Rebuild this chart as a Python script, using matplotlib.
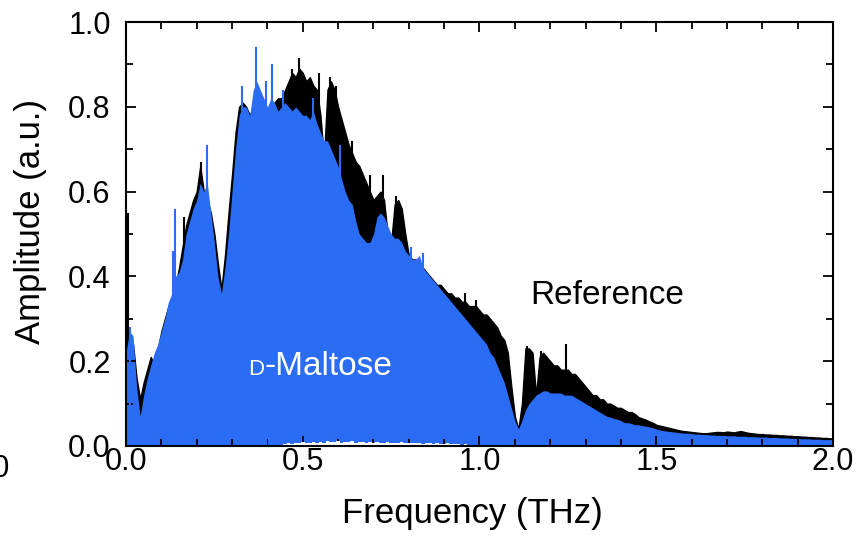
import numpy as np
import matplotlib
matplotlib.use("Agg")
import matplotlib.pyplot as plt
from matplotlib.ticker import MultipleLocator

plt.rcParams["font.family"] = ["Liberation Sans", "DejaVu Sans"]

# spectral amplitude envelopes, 0.00 ... 2.00 THz in 0.01 THz steps
reference_amp = [
    0.20, 0.23, 0.24, 0.16, 0.11, 0.15, 0.18, 0.21, 0.19, 0.23,
    0.27, 0.30, 0.33, 0.35, 0.38, 0.42, 0.47, 0.52, 0.55, 0.58,
    0.60, 0.66, 0.60, 0.58, 0.55, 0.50, 0.43, 0.37, 0.45, 0.55,
    0.64, 0.74, 0.80, 0.81, 0.80, 0.78, 0.80, 0.82, 0.80, 0.80,
    0.79, 0.80, 0.81, 0.82, 0.82, 0.84, 0.86, 0.88, 0.87, 0.89,
    0.88, 0.86, 0.87, 0.85, 0.84, 0.78, 0.68, 0.84, 0.86, 0.84,
    0.80, 0.77, 0.74, 0.71, 0.69, 0.67, 0.66, 0.64, 0.62, 0.60,
    0.58, 0.59, 0.60, 0.58, 0.50, 0.48, 0.57, 0.58, 0.56, 0.50,
    0.45, 0.44, 0.44, 0.43, 0.42, 0.41, 0.40, 0.39, 0.38, 0.38,
    0.37, 0.36, 0.36, 0.35, 0.35, 0.34, 0.34, 0.33, 0.33, 0.33,
    0.32, 0.31, 0.31, 0.30, 0.29, 0.28, 0.26, 0.25, 0.22, 0.14,
    0.07, 0.04, 0.10, 0.23, 0.23, 0.22, 0.12, 0.21, 0.22, 0.21,
    0.20, 0.19, 0.19, 0.18, 0.18, 0.18, 0.17, 0.17, 0.16, 0.15,
    0.14, 0.13, 0.12, 0.12, 0.11, 0.11, 0.10, 0.10, 0.095, 0.09,
    0.09, 0.085, 0.08, 0.08, 0.075, 0.068, 0.065, 0.062, 0.058, 0.055,
    0.050, 0.048, 0.046, 0.044, 0.042, 0.040, 0.038, 0.036, 0.035, 0.034,
    0.033, 0.032, 0.031, 0.030, 0.030, 0.031, 0.032, 0.033, 0.033, 0.032,
    0.034, 0.033, 0.032, 0.034, 0.035, 0.033, 0.031, 0.030, 0.029, 0.028,
    0.028, 0.027, 0.027, 0.026, 0.026, 0.025, 0.025, 0.024, 0.024, 0.023,
    0.023, 0.022, 0.022, 0.021, 0.021, 0.020, 0.020, 0.019, 0.019, 0.018,
    0.018,
]

maltose_amp = [
    0.22, 0.27, 0.26, 0.14, 0.07, 0.12, 0.16, 0.19, 0.22, 0.24,
    0.27, 0.30, 0.34, 0.36, 0.40, 0.41, 0.44, 0.50, 0.53, 0.56,
    0.58, 0.62, 0.60, 0.62, 0.55, 0.48, 0.40, 0.36, 0.42, 0.50,
    0.60, 0.70, 0.78, 0.80, 0.80, 0.78, 0.84, 0.86, 0.84, 0.82,
    0.80, 0.82, 0.81, 0.79, 0.80, 0.81, 0.80, 0.79, 0.80, 0.79,
    0.78, 0.78, 0.77, 0.79, 0.76, 0.74, 0.72, 0.72, 0.70, 0.68,
    0.66, 0.63, 0.60, 0.58, 0.57, 0.53, 0.50, 0.49, 0.48, 0.48,
    0.50, 0.54, 0.55, 0.54, 0.52, 0.50, 0.49, 0.49, 0.48, 0.46,
    0.45, 0.44, 0.44, 0.45, 0.42, 0.41, 0.40, 0.39, 0.38, 0.37,
    0.36, 0.35, 0.34, 0.33, 0.32, 0.31, 0.30, 0.29, 0.28, 0.27,
    0.26, 0.25, 0.24, 0.22, 0.21, 0.19, 0.17, 0.15, 0.12, 0.09,
    0.06, 0.04, 0.06, 0.085, 0.10, 0.11, 0.12, 0.125, 0.13, 0.13,
    0.125, 0.125, 0.125, 0.125, 0.12, 0.12, 0.12, 0.115, 0.11, 0.105,
    0.10, 0.095, 0.09, 0.085, 0.08, 0.075, 0.07, 0.068, 0.065, 0.063,
    0.06, 0.055, 0.055, 0.053, 0.05, 0.05, 0.048, 0.047, 0.045, 0.043,
    0.040, 0.038, 0.036, 0.035, 0.034, 0.033, 0.032, 0.031, 0.030, 0.030,
    0.029, 0.028, 0.028, 0.027, 0.027, 0.026, 0.026, 0.025, 0.025, 0.025,
    0.024, 0.024, 0.024, 0.023, 0.023, 0.023, 0.022, 0.022, 0.022, 0.021,
    0.021, 0.021, 0.020, 0.020, 0.020, 0.019, 0.019, 0.019, 0.018, 0.018,
    0.018, 0.017, 0.017, 0.017, 0.016, 0.016, 0.016, 0.015, 0.015, 0.015,
    0.016,
]

# narrow single-bin peaks standing above the envelopes
reference_spike_freq = [0.006, 0.165, 0.212, 0.47, 0.49, 0.545, 0.578, 0.595,
                        0.64, 0.69, 0.727, 0.765, 0.96, 0.99, 1.135, 1.175, 1.245]
reference_spike_amp = [0.55, 0.54, 0.67, 0.89, 0.915, 0.88, 0.87, 0.85,
                       0.72, 0.64, 0.64, 0.59, 0.36, 0.345, 0.235, 0.225, 0.24]
maltose_spike_freq = [0.011, 0.132, 0.139, 0.229, 0.328, 0.368, 0.395, 0.413,
                      0.445, 0.53, 0.605, 0.805, 0.84]
maltose_spike_amp = [0.28, 0.46, 0.56, 0.71, 0.85, 0.94, 0.86, 0.90,
                     0.84, 0.82, 0.71, 0.47, 0.455]

# white dropout near the baseline, 0.44 ... 0.99 THz
dropout_amp = [
    0.003, 0.004, 0.006, 0.005, 0.008, 0.007, 0.009, 0.006, 0.008, 0.010,
    0.007, 0.009, 0.008, 0.011, 0.009, 0.010, 0.012, 0.008, 0.010, 0.009,
    0.011, 0.008, 0.009, 0.010, 0.007, 0.009, 0.008, 0.010, 0.007, 0.008,
    0.009, 0.006, 0.008, 0.007, 0.009, 0.006, 0.007, 0.008, 0.006, 0.007,
    0.005, 0.006, 0.007, 0.005, 0.006, 0.004, 0.005, 0.006, 0.004, 0.005,
    0.004, 0.003, 0.004, 0.003, 0.003, 0.002,
]

BLUE = "#2a6cf4"

freq = np.linspace(0.0, 2.0, len(reference_amp))
dropout_freq = 0.44 + 0.01 * np.arange(len(dropout_amp))

fig = plt.figure(figsize=(8.67, 5.37), dpi=100)
ax = fig.add_axes([0.1453, 0.1695, 0.8155, 0.7895])

# reference first, sample spectrum painted over it
ax.fill_between(freq, 0, reference_amp, color="black", lw=1.0, zorder=1)
ax.vlines(reference_spike_freq, 0, reference_spike_amp, color="black", lw=1.5, zorder=1.2)
ax.fill_between(freq, 0, maltose_amp, color=BLUE, lw=0, zorder=1.4)
ax.vlines(maltose_spike_freq, 0, maltose_spike_amp, color=BLUE, lw=1.5, zorder=1.6)
ax.fill_between(dropout_freq, 0, dropout_amp, step="mid", color="white", lw=0, zorder=1.8)

ax.text(1.143, 0.335, "Reference", fontsize=24, color="black")
ax.text(0.345, 0.168, "D", fontsize=16, color="white")
ax.text(0.393, 0.168, "-Maltose", fontsize=24, color="white")

ax.set_xlim(0, 2.0)
ax.set_ylim(0, 1.0)
ax.xaxis.set_major_locator(MultipleLocator(0.5))
ax.xaxis.set_minor_locator(MultipleLocator(0.1))
ax.yaxis.set_major_locator(MultipleLocator(0.2))
ax.yaxis.set_minor_locator(MultipleLocator(0.1))
ax.xaxis.set_major_formatter(plt.FuncFormatter(lambda v, p: f"{v:.1f}"))
ax.yaxis.set_major_formatter(plt.FuncFormatter(lambda v, p: f"{v:.1f}"))

ax.tick_params(which="both", direction="in", top=True, right=True, width=1.3)
ax.tick_params(which="major", length=7)
ax.tick_params(which="minor", length=5)
ax.tick_params(axis="x", labelsize=22, pad=1)
ax.tick_params(axis="y", labelsize=22, pad=11)
for spine in ax.spines.values():
    spine.set_linewidth(1.5)
    spine.set_zorder(3)

ax.set_xlabel("Frequency (THz)", fontsize=25)
ax.set_ylabel("Amplitude (a.u.)", fontsize=25)
ax.xaxis.set_label_coords(0.49, -0.12)
ax.xaxis.label.set_va("top")
ax.yaxis.set_label_coords(-0.112, 0.53)

# edge of the neighbouring panel's axis label
fig.text(10 / 867, 0.127, "2.0", fontsize=22, ha="right", va="center")

fig.savefig("out.png", dpi=100)
